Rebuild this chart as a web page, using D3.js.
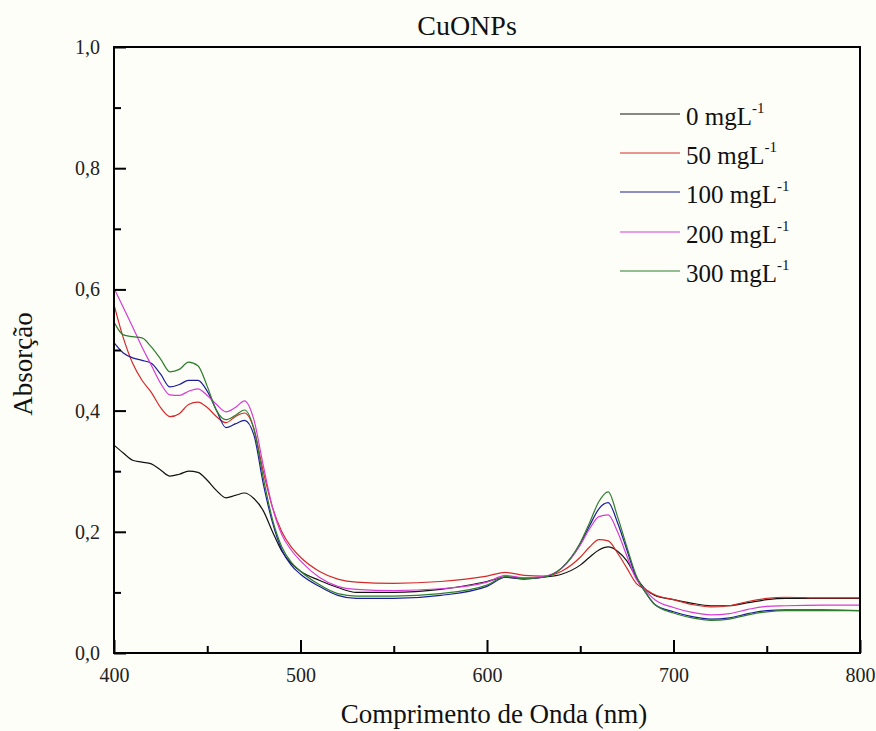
<!DOCTYPE html>
<html><head><meta charset="utf-8">
<script src="https://cdn.jsdelivr.net/npm/d3@7"></script>
<style>body{margin:0;background:#fefef9;} svg{display:block;}</style>
</head><body>
<script>
const wavelengths = [400,405,410,415,420,425,430,435,440,445,450,455,460,465,470,475,480,485,490,495,500,510,520,530,550,575,600,610,620,630,640,650,655,660,665,670,675,680,685,690,700,710,720,730,740,750,760,780,800];
const s0 = [0.343,0.33,0.318,0.315,0.312,0.302,0.292,0.295,0.300,0.298,0.285,0.268,0.256,0.26,0.264,0.255,0.235,0.20,0.168,0.148,0.135,0.12,0.108,0.10,0.10,0.105,0.118,0.125,0.122,0.125,0.13,0.145,0.158,0.17,0.175,0.168,0.152,0.125,0.105,0.095,0.088,0.082,0.078,0.078,0.083,0.088,0.09,0.09,0.09];
const s50 = [0.575,0.52,0.478,0.45,0.43,0.405,0.39,0.395,0.41,0.414,0.405,0.39,0.38,0.39,0.396,0.37,0.30,0.24,0.20,0.175,0.158,0.135,0.122,0.117,0.115,0.118,0.127,0.133,0.128,0.127,0.135,0.158,0.175,0.187,0.185,0.165,0.14,0.115,0.105,0.096,0.088,0.08,0.076,0.078,0.085,0.09,0.092,0.091,0.091];
const s100 = [0.512,0.495,0.487,0.483,0.478,0.46,0.439,0.443,0.45,0.45,0.432,0.40,0.372,0.378,0.384,0.36,0.28,0.215,0.17,0.145,0.13,0.11,0.095,0.09,0.09,0.095,0.11,0.125,0.123,0.125,0.14,0.18,0.21,0.238,0.248,0.215,0.17,0.125,0.1,0.08,0.068,0.06,0.056,0.058,0.065,0.07,0.071,0.071,0.07];
const s200 = [0.602,0.57,0.538,0.505,0.475,0.445,0.426,0.425,0.432,0.436,0.425,0.41,0.398,0.405,0.416,0.385,0.31,0.24,0.195,0.17,0.152,0.125,0.11,0.105,0.103,0.106,0.117,0.128,0.124,0.126,0.14,0.178,0.205,0.225,0.228,0.2,0.16,0.122,0.103,0.088,0.075,0.067,0.063,0.065,0.072,0.077,0.078,0.079,0.079];
const s300 = [0.546,0.525,0.522,0.52,0.505,0.485,0.464,0.468,0.48,0.474,0.44,0.40,0.385,0.392,0.401,0.37,0.29,0.22,0.175,0.15,0.135,0.113,0.098,0.094,0.094,0.098,0.112,0.126,0.123,0.125,0.14,0.182,0.215,0.25,0.266,0.225,0.175,0.128,0.1,0.08,0.066,0.058,0.054,0.056,0.063,0.068,0.07,0.07,0.07];
const seriesNames = ["0 mgL","50 mgL","100 mgL","200 mgL","300 mgL"];
const seriesColors = ["#111111","#d42a2a","#1c1c9c","#d63bd6","#2d7d2d"];
const xTicks = [400,500,600,700,800];
const yTicks = [0,0.2,0.4,0.6,0.8,1.0];

const W=876,H=731;
const m={left:114,right:860,top:47,bottom:653};
const svg=d3.select("body").append("svg").attr("width",W).attr("height",H);
svg.append("rect").attr("width",W).attr("height",H).attr("fill","#fefef9");
const x=d3.scaleLinear().domain([400,800]).range([m.left,m.right]);
const y=d3.scaleLinear().domain([0,1]).range([m.bottom,m.top]);
const font="Liberation Serif, Times New Roman, DejaVu Serif, serif";

const data=[s0,s50,s100,s200,s300];
const line=d3.line().x((d,i)=>x(wavelengths[i])).y(d=>y(d)).curve(d3.curveMonotoneX);
const g=svg.append("g");
data.forEach((s,k)=>{
  g.append("path").datum(s).attr("d",line).attr("fill","none").attr("stroke",seriesColors[k]).attr("stroke-width",1.2);
});

// frame
svg.append("rect").attr("x",m.left).attr("y",m.top).attr("width",m.right-m.left).attr("height",m.bottom-m.top)
  .attr("fill","none").attr("stroke","#000").attr("stroke-width",2);

// x axis (ticks inward)
const xAxis=d3.axisBottom(x).tickValues(xTicks).tickSize(-13).tickPadding(15).tickFormat(d3.format("d"));
const xg=svg.append("g").attr("transform",`translate(0,${m.bottom})`).call(xAxis);
xg.select(".domain").remove();
xg.selectAll("line").attr("stroke","#000").attr("stroke-width",2);
xg.selectAll("text").attr("font-family",font).attr("font-size",20).attr("fill","#222");
const xMinor=d3.axisBottom(x).tickValues([450,550,650,750]).tickSize(-7).tickFormat("");
const xmg=svg.append("g").attr("transform",`translate(0,${m.bottom})`).call(xMinor);
xmg.select(".domain").remove();
xmg.selectAll("line").attr("stroke","#000").attr("stroke-width",2);

// y axis
const fmt=d=>d3.format(".1f")(d).replace(".",",");
const yAxis=d3.axisLeft(y).tickValues(yTicks).tickSize(-12).tickPadding(14).tickFormat(fmt);
const yg=svg.append("g").attr("transform",`translate(${m.left},0)`).call(yAxis);
yg.select(".domain").remove();
yg.selectAll("line").attr("stroke","#000").attr("stroke-width",2);
yg.selectAll("text").attr("font-family",font).attr("font-size",20).attr("fill","#222");
const yMinor=d3.axisLeft(y).tickValues([0.1,0.3,0.5,0.7,0.9]).tickSize(-7).tickFormat("");
const ymg=svg.append("g").attr("transform",`translate(${m.left},0)`).call(yMinor);
ymg.select(".domain").remove();
ymg.selectAll("line").attr("stroke","#000").attr("stroke-width",2);

// title and labels
svg.append("text").attr("x",467).attr("y",35).attr("text-anchor","middle").attr("font-family",font).attr("font-size",28).attr("fill","#111").text("CuONPs");
svg.append("text").attr("x",494).attr("y",723).attr("text-anchor","middle").attr("font-family",font).attr("font-size",27).attr("fill","#111").text("Comprimento de Onda (nm)");
svg.append("text").attr("transform","translate(32,364) rotate(-90)").attr("text-anchor","middle").attr("font-family",font).attr("font-size",27).attr("fill","#111").text("Absorção");

// legend
const legY=[114,153,192,232,271];
seriesNames.forEach((n,k)=>{
  svg.append("line").attr("x1",620).attr("x2",680).attr("y1",legY[k]).attr("y2",legY[k]).attr("stroke",seriesColors[k]).attr("stroke-width",1.2);
  const t=svg.append("text").attr("x",686).attr("y",legY[k]+11).attr("font-family",font).attr("font-size",25).attr("fill","#111");
  t.append("tspan").text(n);
  t.append("tspan").attr("font-size",15).attr("dy",-12).text("-1");
});
</script>
</body></html>
